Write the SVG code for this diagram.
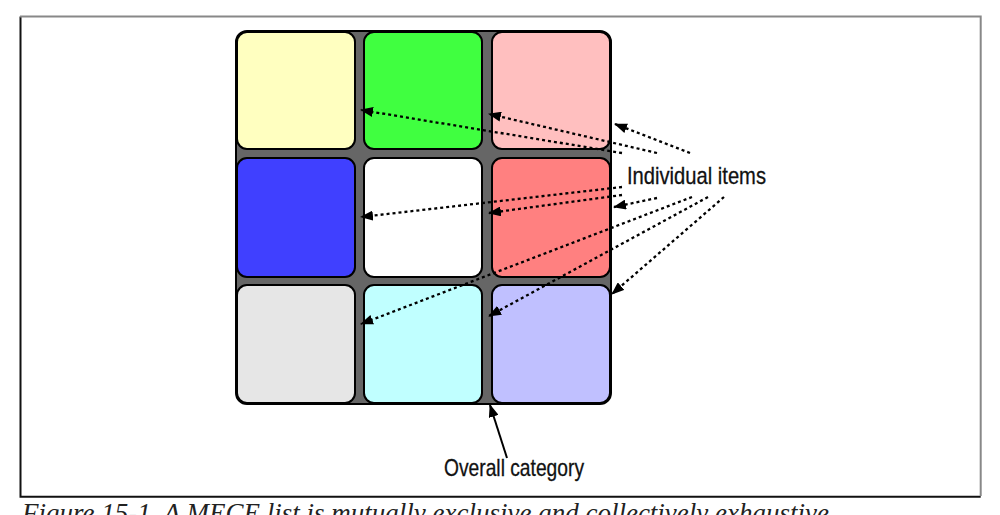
<svg xmlns="http://www.w3.org/2000/svg" width="1000" height="515" viewBox="0 0 1000 515">
<defs>
<style>
.cell{stroke:#000;stroke-width:2}
.dot{fill:none;stroke:#000;stroke-width:2.3;stroke-dasharray:3 3}
.lbl{font-family:"Liberation Sans",Arial,sans-serif;font-size:24px;fill:#111;stroke:#111;stroke-width:0.3}
.cap{font-family:"Liberation Serif","Times New Roman",serif;font-style:italic;font-size:27px;fill:#222}
</style>
<marker id="ah" viewBox="0 0 13 10" refX="12" refY="5" markerWidth="13" markerHeight="10" markerUnits="userSpaceOnUse" orient="auto">
<path d="M0,0 L13,5 L0,10 Z" fill="#000"/>
</marker>
</defs>
<rect x="0" y="0" width="1000" height="515" fill="#fff"/>
<path d="M20.5,16.5 V496.7 H980.7" fill="none" stroke="#111" stroke-width="2"/>
<path d="M20,16.5 H980.7 V496" fill="none" stroke="#888" stroke-width="2"/>
<g id="grid">
<rect x="236" y="31" width="375" height="373" rx="11" fill="#666" stroke="#000" stroke-width="2"/>
</g>
<g id="cell-yellow"><rect class="cell" x="237" y="32" width="118" height="117" rx="10" fill="#FFFFC0"/></g>
<g id="cell-green"><rect class="cell" x="364" y="32" width="118" height="117" rx="10" fill="#40FF40"/></g>
<g id="cell-pink"><rect class="cell" x="492" y="32" width="118" height="117" rx="10" fill="#FFBFBF"/></g>
<g id="cell-blue"><rect class="cell" x="237" y="158" width="118" height="119" rx="10" fill="#4040FF"/></g>
<g id="cell-white"><rect class="cell" x="364" y="158" width="118" height="119" rx="10" fill="#FFFFFF"/></g>
<g id="cell-red"><rect class="cell" x="492" y="158" width="118" height="119" rx="10" fill="#FF8080"/></g>
<g id="cell-grey"><rect class="cell" x="237" y="285" width="118" height="118" rx="10" fill="#E6E6E6"/></g>
<g id="cell-cyan"><rect class="cell" x="364" y="285" width="118" height="118" rx="10" fill="#C0FFFF"/></g>
<g id="cell-lavender"><rect class="cell" x="492" y="285" width="118" height="118" rx="10" fill="#C0C0FF"/></g>
<g id="connectors">
<line class="dot" x1="622" y1="153" x2="361" y2="110" marker-end="url(#ah)"/>
<line class="dot" x1="657" y1="153" x2="489" y2="114" marker-end="url(#ah)"/>
<line class="dot" x1="690" y1="153" x2="615" y2="124" marker-end="url(#ah)"/>
<line class="dot" x1="622" y1="187" x2="361" y2="217" marker-end="url(#ah)"/>
<line class="dot" x1="622" y1="195" x2="489" y2="213" marker-end="url(#ah)"/>
<line class="dot" x1="657" y1="198" x2="614" y2="207" marker-end="url(#ah)"/>
<line class="dot" x1="692" y1="197" x2="361" y2="324" marker-end="url(#ah)"/>
<line class="dot" x1="708" y1="197" x2="489" y2="316" marker-end="url(#ah)"/>
<line class="dot" x1="724" y1="197" x2="612" y2="294" marker-end="url(#ah)"/>
<line x1="507" y1="458" x2="490" y2="405" stroke="#000" stroke-width="2" marker-end="url(#ah)"/>
</g>
<g id="label-items"><text class="lbl" x="627" y="184" textLength="139" lengthAdjust="spacingAndGlyphs">Individual items</text></g>
<g id="label-category"><text class="lbl" x="444" y="476" textLength="140" lengthAdjust="spacingAndGlyphs">Overall category</text></g>
<g id="caption"><text class="cap" x="22" y="522">Figure 15-1. A MECE list is mutually exclusive and collectively exhaustive</text></g>
</svg>
